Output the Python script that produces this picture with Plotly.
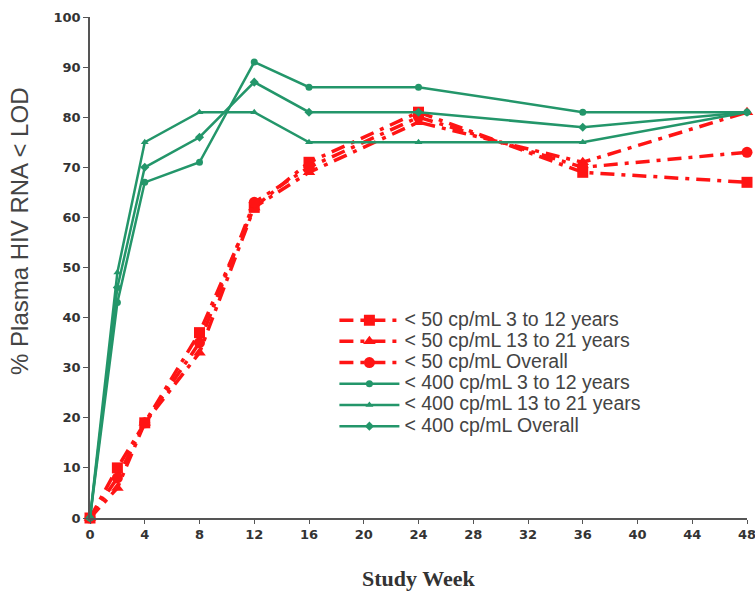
import plotly.graph_objects as go

weeks = [0, 2, 4, 8, 12, 16, 24, 36, 48]

r50_3_12 = [0, 10, 19, 37, 62, 71, 81, 69, 67]
r50_13_21 = [0, 6, 19, 33, 62, 69, 79, 71, 81]
r50_overall = [0, 8, 19, 35, 63, 70, 80, 70, 73]

g400_3_12 = [0, 43, 67, 71, 91, 86, 86, 81, 81]
g400_13_21 = [0, 49, 75, 81, 81, 75, 75, 75, 81]
g400_overall = [0, 46, 70, 76, 87, 81, 81, 78, 81]

names = [
    "< 50 cp/mL 3 to 12 years",
    "< 50 cp/mL 13 to 21 years",
    "< 50 cp/mL Overall",
    "< 400 cp/mL 3 to 12 years",
    "< 400 cp/mL 13 to 21 years",
    "< 400 cp/mL Overall",
]

x_ticks = list(range(0, 49, 4))
y_ticks = list(range(0, 101, 10))

RED = "#ff1414"
GREEN = "#23966a"


def legend_label(txt):
    return '<span style="font-size:19.5px">' + txt + '</span>'


fig = go.Figure()

red_series = [r50_3_12, r50_13_21, r50_overall]
red_symbols = ["square", "triangle-up", "circle"]
for vals, sym, nm in zip(red_series, red_symbols, names[:3]):
    fig.add_trace(go.Scatter(
        x=weeks, y=vals, name=legend_label(nm), mode="lines+markers",
        line=dict(color=RED, width=3.5, dash="14px,7px,4px,7px"),
        marker=dict(symbol=sym, size=11, color=RED),
        cliponaxis=False,
    ))

green_series = [g400_3_12, g400_13_21, g400_overall]
green_symbols = ["circle", "triangle-up", "diamond"]
for vals, sym, nm in zip(green_series, green_symbols, names[3:]):
    fig.add_trace(go.Scatter(
        x=weeks, y=vals, name=legend_label(nm), mode="lines+markers",
        line=dict(color=GREEN, width=2.5),
        marker=dict(symbol=sym, size=7, color=GREEN),
        cliponaxis=False,
    ))

tick_font = dict(family="DejaVu Sans, sans-serif", size=13, color="#333333", weight="bold")

fig.update_layout(
    width=755, height=599,
    margin=dict(l=90, r=8, t=17, b=81),
    paper_bgcolor="white", plot_bgcolor="white",
    showlegend=True,
    legend=dict(
        x=0.372, y=0.426, xanchor="left", yanchor="top",
        bgcolor="rgba(0,0,0,0)",
        font=dict(family="Liberation Sans, Arial, sans-serif", size=14, color="#444444"),
        tracegroupgap=0, itemwidth=60,
    ),
    xaxis=dict(
        range=[0, 48], tickvals=x_ticks, ticktext=[str(t) for t in x_ticks],
        showgrid=False, zeroline=False, automargin=False,
        showline=True, linecolor="#555555", linewidth=1.5,
        ticks="outside", ticklen=4, tickcolor="#555555",
        tickfont=tick_font, ticklabeloverflow="allow",
    ),
    yaxis=dict(
        range=[0, 100], tickvals=y_ticks, ticktext=[str(t) for t in y_ticks],
        showgrid=False, zeroline=False, automargin=False,
        showline=True, linecolor="#555555", linewidth=1.5,
        ticks="outside", ticklen=5, tickcolor="#555555",
        tickfont=tick_font, ticklabeloverflow="allow",
    ),
    annotations=[
        dict(text="<b>Study Week</b>", xref="paper", yref="paper",
             x=0.5, y=-0.12, xanchor="center", yanchor="middle", showarrow=False,
             font=dict(family="Liberation Serif, Times New Roman, serif", size=22, color="#333333")),
        dict(text="% Plasma HIV RNA < LOD", xref="paper", yref="paper",
             x=-0.1065, y=0.571, xanchor="center", yanchor="middle", showarrow=False,
             textangle=-90,
             font=dict(family="Liberation Sans, Arial, sans-serif", size=24, color="#444444")),
    ],
)

fig.write_html("out.html", config={"displayModeBar": False},
               post_script="document.body.style.margin='0';document.body.style.overflow='hidden';")
